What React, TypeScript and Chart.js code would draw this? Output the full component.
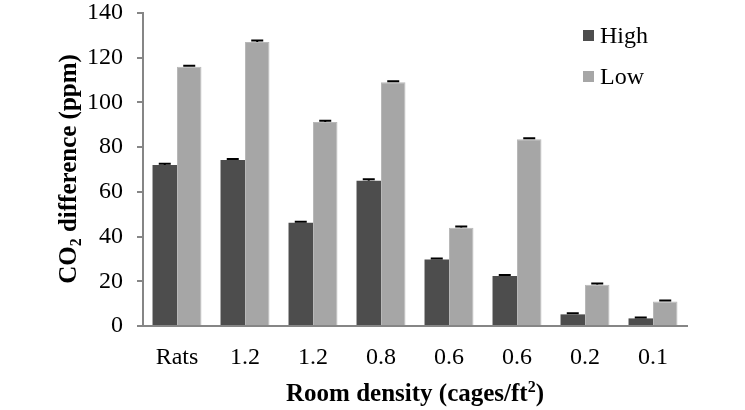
import React, { useEffect, useRef } from "react";
import { Chart, registerables } from "chart.js";

Chart.register(...registerables);

const categories = ["Rats", "1.2", "1.2", "0.8", "0.6", "0.6", "0.2", "0.1"];
const seriesLabels = ["High", "Low"];
const highValues = [72.0, 74.2, 46.2, 65.0, 29.8, 22.4, 5.2, 3.4];
const lowValues = [116.0, 127.0, 91.2, 109.0, 44.0, 83.5, 18.5, 11.0];
const highErrors = [0.6, 0.5, 0.4, 0.6, 0.4, 0.4, 0.5, 0.4];
const lowErrors = [0.4, 0.7, 0.6, 0.5, 0.5, 0.5, 0.5, 0.4];
const yTicks = [0, 20, 40, 60, 80, 100, 120, 140];

const HIGH_COLOR = "#4d4d4d";
const LOW_COLOR = "#a6a6a6";
const AXIS_COLOR = "#868686";
const FONT = "'Liberation Serif', 'Times New Roman', serif";

const errorBarPlugin = {
  id: "errorBars",
  afterDatasetsDraw(chart: any) {
    const ctx = chart.ctx;
    const yScale = chart.scales.y;
    const errs = [highErrors, lowErrors];
    ctx.save();
    ctx.strokeStyle = "#000";
    ctx.lineWidth = 2;
    chart.data.datasets.forEach((ds: any, di: number) => {
      const meta = chart.getDatasetMeta(di);
      meta.data.forEach((bar: any, i: number) => {
        const v = ds.data[i];
        const e = errs[di][i];
        const yTop = yScale.getPixelForValue(v + e);
        const yVal = yScale.getPixelForValue(v);
        ctx.beginPath();
        ctx.moveTo(bar.x, yVal);
        ctx.lineTo(bar.x, yTop);
        ctx.moveTo(bar.x - 6, yTop);
        ctx.lineTo(bar.x + 6, yTop);
        ctx.stroke();
      });
    });
    ctx.restore();
  },
};

const textPlugin = {
  id: "customText",
  afterDraw(chart: any) {
    const ctx = chart.ctx;
    const area = chart.chartArea;
    ctx.save();
    ctx.fillStyle = "#000";
    ctx.textBaseline = "alphabetic";

    const bold = `bold 25px ${FONT}`;
    const boldSmall = `bold 16px ${FONT}`;

    // Y title with subscript
    const parts = [
      { t: "CO", f: bold, dy: 0 },
      { t: "2", f: boldSmall, dy: 5 },
      { t: " difference (ppm)", f: bold, dy: 0 },
    ];
    let total = 0;
    parts.forEach((p) => {
      ctx.font = p.f;
      total += ctx.measureText(p.t).width;
    });
    ctx.translate(76, 169);
    ctx.rotate(-Math.PI / 2);
    let x = -total / 2;
    parts.forEach((p) => {
      ctx.font = p.f;
      ctx.fillText(p.t, x, p.dy);
      x += ctx.measureText(p.t).width;
    });
    ctx.setTransform(1, 0, 0, 1, 0, 0);

    // X title with superscript
    const xparts = [
      { t: "Room density (cages/ft", f: bold, dy: 0 },
      { t: "2", f: boldSmall, dy: -9 },
      { t: ")", f: bold, dy: 0 },
    ];
    total = 0;
    xparts.forEach((p) => {
      ctx.font = p.f;
      total += ctx.measureText(p.t).width;
    });
    x = (area.left + area.right) / 2 - total / 2;
    xparts.forEach((p) => {
      ctx.font = p.f;
      ctx.fillText(p.t, x, 401 + p.dy);
      x += ctx.measureText(p.t).width;
    });

    // Legend
    const colors = [HIGH_COLOR, LOW_COLOR];
    ctx.font = `24px ${FONT}`;
    chart.data.datasets.forEach((ds: any, i: number) => {
      const cy = 36 + i * 41;
      ctx.fillStyle = colors[i];
      ctx.fillRect(583, cy - 6, 11, 11);
      ctx.fillStyle = "#000";
      ctx.fillText(ds.label, 600, cy + 7);
    });
    ctx.restore();
  },
};

export default function App() {
  const ref = useRef<HTMLCanvasElement>(null);
  useEffect(() => {
    document.body.style.margin = "0";
    const canvas = ref.current!;
    const chart = new Chart(canvas, {
      type: "bar",
      data: {
        labels: categories,
        datasets: [
          {
            label: seriesLabels[0],
            data: highValues,
            backgroundColor: HIGH_COLOR,
            borderWidth: 0,
            categoryPercentage: 0.72,
            barPercentage: 1.0,
          },
          {
            label: seriesLabels[1],
            data: lowValues,
            backgroundColor: LOW_COLOR,
            borderColor: "#b8b8b8",
            borderWidth: 1,
            categoryPercentage: 0.72,
            barPercentage: 1.0,
          },
        ],
      },
      options: {
        responsive: false,
        animation: false,
        devicePixelRatio: 1,
        layout: { padding: { left: 0, right: 58, top: 0, bottom: 0 } },
        plugins: {
          legend: { display: false },
          tooltip: { enabled: false },
          title: { display: false },
        },
        scales: {
          x: {
            grid: { display: false, drawTicks: false },
            border: { display: true, color: AXIS_COLOR, width: 2 },
            ticks: {
              color: "#000",
              font: { family: FONT, size: 24 },
              padding: 17,
              maxRotation: 0,
              autoSkip: false,
            },
            afterFit: (scale: any) => {
              scale.height = 84;
              scale.paddingLeft = 0;
              scale.paddingRight = 0;
            },
          },
          y: {
            min: 0,
            max: 140,
            afterBuildTicks: (scale: any) => {
              scale.ticks = yTicks.map((v) => ({ value: v }));
            },
            grid: {
              display: true,
              drawOnChartArea: false,
              drawTicks: true,
              tickLength: 6,
              color: AXIS_COLOR,
              lineWidth: 2,
            },
            border: { display: true, color: AXIS_COLOR, width: 2 },
            ticks: {
              color: "#000",
              font: { family: FONT, size: 24 },
              padding: 14,
            },
            afterFit: (scale: any) => {
              scale.width = 143;
              scale.paddingTop = 13;
              scale.paddingBottom = 0;
            },
          },
        },
      },
      plugins: [errorBarPlugin, textPlugin],
    });
    return () => chart.destroy();
  }, []);
  return (
    <div style={{ width: 745, height: 410, background: "#fff" }}>
      <canvas ref={ref} width={745} height={410} />
    </div>
  );
}
